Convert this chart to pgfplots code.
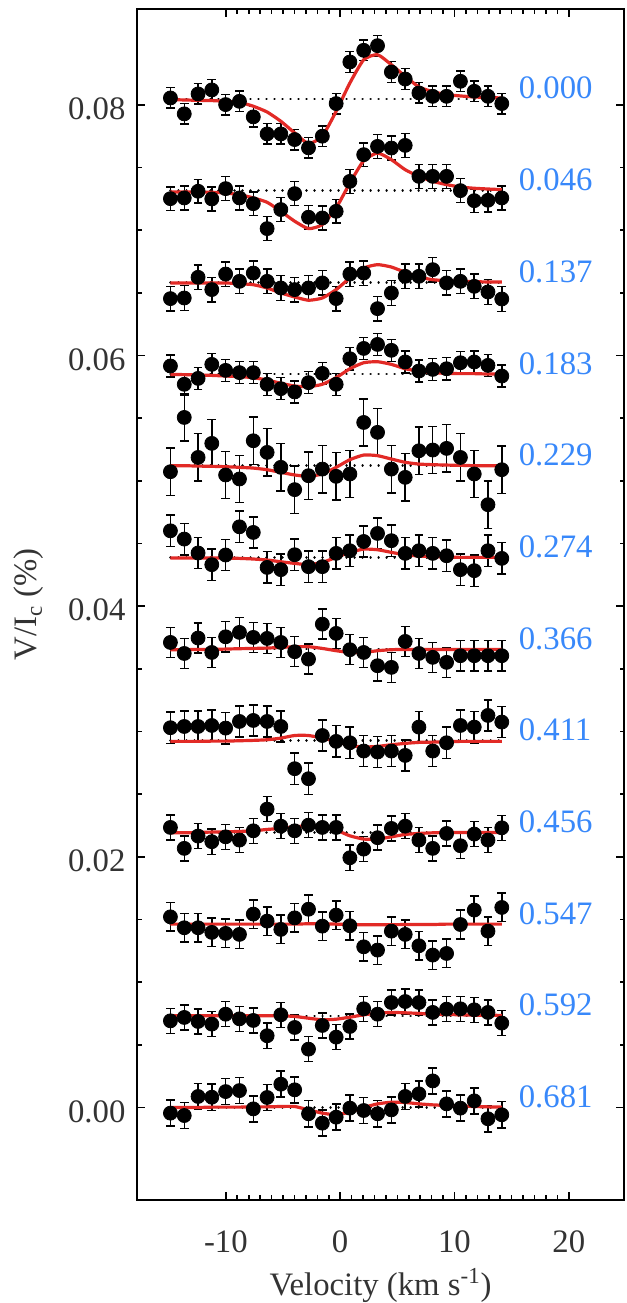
\documentclass[border=0pt]{standalone}
\usepackage{pgfplots}
\pgfplotsset{compat=1.18}
\usepackage{pgfplotstable}
\usepackage{fontspec}
\setmainfont{Liberation Serif}

\definecolor{modelred}{RGB}{226,42,38}
\definecolor{phaseblue}{RGB}{56,136,250}
\definecolor{labelgray}{RGB}{51,51,51}

% observed Stokes V (V/Ic, %), one column per rotation phase
\pgfplotstableread{
v      p0       p1       p2       p3       p4       p5       p6       p7       p8       p9       p10      p11
-14.85  0.00008 -0.00064 -0.00130  0.00064 -0.00048  0.00212  0.00053  0.00104  0.00040  0.00058 -0.00040 -0.00045
-13.64 -0.00119 -0.00058 -0.00125 -0.00082  0.00385  0.00146 -0.00035  0.00114 -0.00127 -0.00029 -0.00013 -0.00064
-12.43  0.00040 -0.00005  0.00040 -0.00035  0.00066  0.00035  0.00088  0.00114 -0.00029 -0.00029 -0.00045  0.00088
-11.23  0.00072 -0.00066 -0.00058  0.00077  0.00178 -0.00058 -0.00027  0.00122 -0.00074 -0.00066 -0.00066  0.00082
-10.02 -0.00045  0.00016  0.00066  0.00029 -0.00074  0.00019  0.00098  0.00101 -0.00035 -0.00074  0.00013  0.00127
-8.81  -0.00019 -0.00058  0.00008  0.00011 -0.00106  0.00244  0.00133  0.00154 -0.00061 -0.00082 -0.00024  0.00135
-7.60  -0.00143 -0.00104  0.00074  0.00011  0.00199  0.00199  0.00093  0.00162  0.00013  0.00080 -0.00037 -0.00011
-6.39  -0.00279 -0.00303  0.00008 -0.00082  0.00106 -0.00080  0.00085  0.00154  0.00186  0.00024 -0.00159  0.00080
-5.19  -0.00279 -0.00151 -0.00045 -0.00117 -0.00013 -0.00098  0.00053  0.00114  0.00050 -0.00042  0.00008  0.00186
-3.98  -0.00324 -0.00024 -0.00058 -0.00143 -0.00191  0.00021 -0.00021 -0.00223  0.00013  0.00050 -0.00093  0.00141
-2.77  -0.00390 -0.00212 -0.00045 -0.00069 -0.00080 -0.00074 -0.00080 -0.00303  0.00058  0.00119 -0.00266 -0.00050
-1.56  -0.00297 -0.00218 -0.00005  0.00005 -0.00027 -0.00074  0.00199  0.00042  0.00040 -0.00016 -0.00077 -0.00125
-0.35  -0.00037 -0.00165 -0.00130 -0.00082 -0.00085  0.00032  0.00125 -0.00005  0.00040  0.00072 -0.00170 -0.00077
0.85    0.00295  0.00074  0.00066  0.00122 -0.00066  0.00053 -0.00005 -0.00016 -0.00202 -0.00013 -0.00085 -0.00005
2.06    0.00388  0.00287  0.00074  0.00204  0.00345  0.00127 -0.00027 -0.00082 -0.00133 -0.00181  0.00056 -0.00024
3.27    0.00425  0.00353 -0.00210  0.00236  0.00266  0.00191 -0.00133 -0.00090 -0.00042 -0.00207  0.00013 -0.00050
4.48    0.00215  0.00340 -0.00085  0.00189 -0.00027  0.00133 -0.00146 -0.00082  0.00032 -0.00056  0.00106 -0.00019
5.69    0.00159  0.00361  0.00048  0.00096 -0.00093  0.00032  0.00061 -0.00117  0.00050 -0.00082  0.00114  0.00088
6.89    0.00048  0.00114  0.00048  0.00024  0.00119  0.00053 -0.00035  0.00109 -0.00061 -0.00173  0.00106  0.00109
8.10    0.00021  0.00114  0.00101  0.00037  0.00125  0.00032 -0.00066 -0.00082 -0.00127 -0.00247  0.00027  0.00212
9.31    0.00021  0.00114 -0.00005  0.00042  0.00138  0.00013 -0.00106 -0.00016 -0.00008 -0.00234  0.00053  0.00029
10.52   0.00141  0.00000  0.00008  0.00090  0.00066 -0.00098 -0.00053  0.00122 -0.00106 -0.00003  0.00056 -0.00005
11.73   0.00061 -0.00080 -0.00032  0.00096 -0.00066 -0.00106 -0.00053  0.00109 -0.00013  0.00112  0.00048  0.00053
12.93   0.00021 -0.00077 -0.00077  0.00069 -0.00311  0.00053 -0.00053  0.00202 -0.00061 -0.00056  0.00027 -0.00090
14.14  -0.00037 -0.00058 -0.00133 -0.00016 -0.00032 -0.00008 -0.00053  0.00149  0.00037  0.00133 -0.00058 -0.00058
}\obs

% model profiles
\pgfplotstableread{
v      m0       m1       m2       m3       m4       m5       m6       m7       m8       m9       m10      m11
-14.85 -0.00005 -0.00011 -0.00005 -0.00003  0.00000 -0.00005 -0.00005 -0.00005 -0.00003  0.00000  0.00000  0.00000
-13.64 -0.00008 -0.00011 -0.00005 -0.00005  0.00000 -0.00005 -0.00005 -0.00005 -0.00003  0.00000  0.00000  0.00000
-12.43 -0.00011 -0.00011 -0.00005 -0.00008 -0.00003 -0.00005 -0.00003 -0.00005  0.00000  0.00000  0.00000  0.00000
-11.23 -0.00013 -0.00013 -0.00005 -0.00011 -0.00005 -0.00005 -0.00003 -0.00003  0.00003  0.00000  0.00000  0.00003
-10.02 -0.00019 -0.00019 -0.00005 -0.00016 -0.00008 -0.00005  0.00000 -0.00003  0.00005  0.00000  0.00000  0.00003
-8.81  -0.00027 -0.00032 -0.00011 -0.00021 -0.00013 -0.00008  0.00003  0.00000  0.00008  0.00000  0.00000  0.00003
-7.60  -0.00058 -0.00058 -0.00019 -0.00029 -0.00019 -0.00013  0.00005  0.00003  0.00013  0.00000  0.00000  0.00005
-6.39  -0.00104 -0.00093 -0.00045 -0.00048 -0.00032 -0.00021  0.00008  0.00008  0.00024  0.00000  0.00000  0.00005
-5.19  -0.00178 -0.00165 -0.00085 -0.00074 -0.00053 -0.00035  0.00013  0.00021  0.00032  0.00000  0.00000  0.00008
-3.98  -0.00271 -0.00244 -0.00117 -0.00096 -0.00074 -0.00048  0.00019  0.00042  0.00045  0.00000 -0.00005  0.00008
-2.77  -0.00356 -0.00303 -0.00143 -0.00101 -0.00085 -0.00058  0.00019  0.00042  0.00053  0.00003 -0.00019 -0.00019
-1.56  -0.00297 -0.00271 -0.00125 -0.00082 -0.00066 -0.00040  0.00005  0.00021  0.00045  0.00003 -0.00032 -0.00045
-0.35  -0.00098 -0.00138 -0.00058 -0.00029 -0.00013  0.00000 -0.00013 -0.00005  0.00019  0.00000 -0.00027 -0.00058
0.85    0.00127  0.00061  0.00035  0.00042  0.00048  0.00040 -0.00027 -0.00037 -0.00027 -0.00003 -0.00011 -0.00037
2.06    0.00313  0.00239  0.00114  0.00090  0.00085  0.00066 -0.00027 -0.00050 -0.00053 -0.00005  0.00008  0.00000
3.27    0.00353  0.00300  0.00141  0.00098  0.00080  0.00061 -0.00013 -0.00045 -0.00053 -0.00005  0.00021  0.00029
4.48    0.00273  0.00247  0.00122  0.00077  0.00053  0.00040 -0.00005 -0.00032 -0.00035 -0.00005  0.00027  0.00042
5.69    0.00181  0.00167  0.00080  0.00042  0.00027  0.00021 -0.00003 -0.00021 -0.00016 -0.00003  0.00024  0.00040
6.89    0.00096  0.00114  0.00042  0.00024  0.00013  0.00011 -0.00003 -0.00013 -0.00008 -0.00003  0.00019  0.00029
8.10    0.00058  0.00074  0.00021  0.00011  0.00008  0.00005 -0.00003 -0.00011 -0.00003 -0.00003  0.00013  0.00021
9.31    0.00035  0.00048  0.00013  0.00005  0.00005  0.00003 -0.00003 -0.00008  0.00000  0.00000  0.00011  0.00016
10.52   0.00024  0.00029  0.00008  0.00003  0.00003  0.00000 -0.00003 -0.00005  0.00000  0.00000  0.00008  0.00011
11.73   0.00016  0.00019  0.00005  0.00003  0.00000  0.00000 -0.00003 -0.00005  0.00000  0.00000  0.00005  0.00008
12.93   0.00011  0.00013  0.00003  0.00000  0.00000  0.00000 -0.00003 -0.00005  0.00000  0.00000  0.00005  0.00005
14.14   0.00008  0.00008  0.00003  0.00000  0.00000  0.00000 -0.00003 -0.00005  0.00000  0.00000  0.00003  0.00003
}\fit

% #1 column index, #2 vertical shift, #3 error bar, #4 phase
\newcommand\stokesrow[4]{%
  \addplot[black, line width=1.3pt, line cap=round, dash pattern=on 0.01pt off 4pt]
    coordinates {(-14.85,#2) (14.14,#2)};
  \addplot[black, only marks, mark=*, mark size=3.5pt,
    error bars/.cd, y dir=both, y fixed=#3,
    error bar style={line width=0.75pt},
    error mark options={rotate=90, mark size=2.2pt, line width=0.75pt}]
    table[x=v, y expr=\thisrow{p#1}+#2] {\obs};
  \addplot[modelred, line width=1.6pt, smooth, tension=0.35]
    table[x=v, y expr=\thisrow{m#1}+#2] {\fit};
  \node[phaseblue, anchor=base west, inner sep=0pt,
    font=\fontsize{16.4}{19}\selectfont] at (axis cs:15.6,#2) {#4};
}

\begin{document}
\begin{tikzpicture}
\begin{axis}[
    scale only axis,
    width=243.75pt, height=596.2pt,
    xmin=-17.75, xmax=24.83,
    ymin=-0.00736, ymax=0.08762,
    xtick={-10,0,10,20}, minor x tick num=9,
    ytick={0,0.02,0.04,0.06,0.08}, minor y tick num=3,
    scaled x ticks=false, scaled y ticks=false,
    /pgf/number format/assume math mode=true,
    tick align=inside,
    major tick length=4pt, minor tick length=2.2pt,
    axis line style={line width=1pt},
    every tick/.style={black, line width=0.8pt},
    tick label style={font=\fontsize{16.4}{19}\selectfont, text=labelgray},
    xticklabel style={anchor=base, inner sep=0pt, yshift=-26.6pt},
    yticklabel style={anchor=east, inner sep=0pt, xshift=-5.75pt, yshift=-2pt,
      /pgf/number format/fixed, /pgf/number format/fixed zerofill,
      /pgf/number format/precision=2},
    xlabel={Velocity (km s\textsuperscript{-1})},
    ylabel={V/I\textsubscript{c} (\%)},
    every axis x label/.style={at={(axis description cs:0.5,-0.0808)}, anchor=base,
      inner sep=0pt, font=\fontsize{16.4}{19}\selectfont, text=labelgray},
    every axis y label/.style={at={(axis description cs:-0.2226,0.5)}, rotate=90, anchor=center,
      inner sep=0pt, font=\fontsize{16.4}{19}\selectfont, text=labelgray},
    clip=false,
]
\stokesrow{0}{0.080465}{0.00082}{0.000}
\stokesrow{1}{0.07315}{0.00095}{0.046}
\stokesrow{2}{0.065835}{0.00098}{0.137}
\stokesrow{3}{0.05852}{0.00088}{0.183}
\stokesrow{4}{0.051205}{0.00189}{0.229}
\stokesrow{5}{0.04389}{0.00125}{0.274}
\stokesrow{6}{0.036575}{0.0012}{0.366}
\stokesrow{7}{0.02926}{0.00125}{0.411}
\stokesrow{8}{0.021945}{0.001}{0.456}
\stokesrow{9}{0.01463}{0.00114}{0.547}
\stokesrow{10}{0.007315}{0.001}{0.592}
\stokesrow{11}{0}{0.00104}{0.681}
\coordinate (sw) at (rel axis cs:0,0);
\coordinate (ne) at (rel axis cs:1,1);
\end{axis}
\path ([shift={(-68.75pt,-50.65pt)}]sw) rectangle ([shift={(1.5pt,4.65pt)}]ne);
\end{tikzpicture}
\end{document}
